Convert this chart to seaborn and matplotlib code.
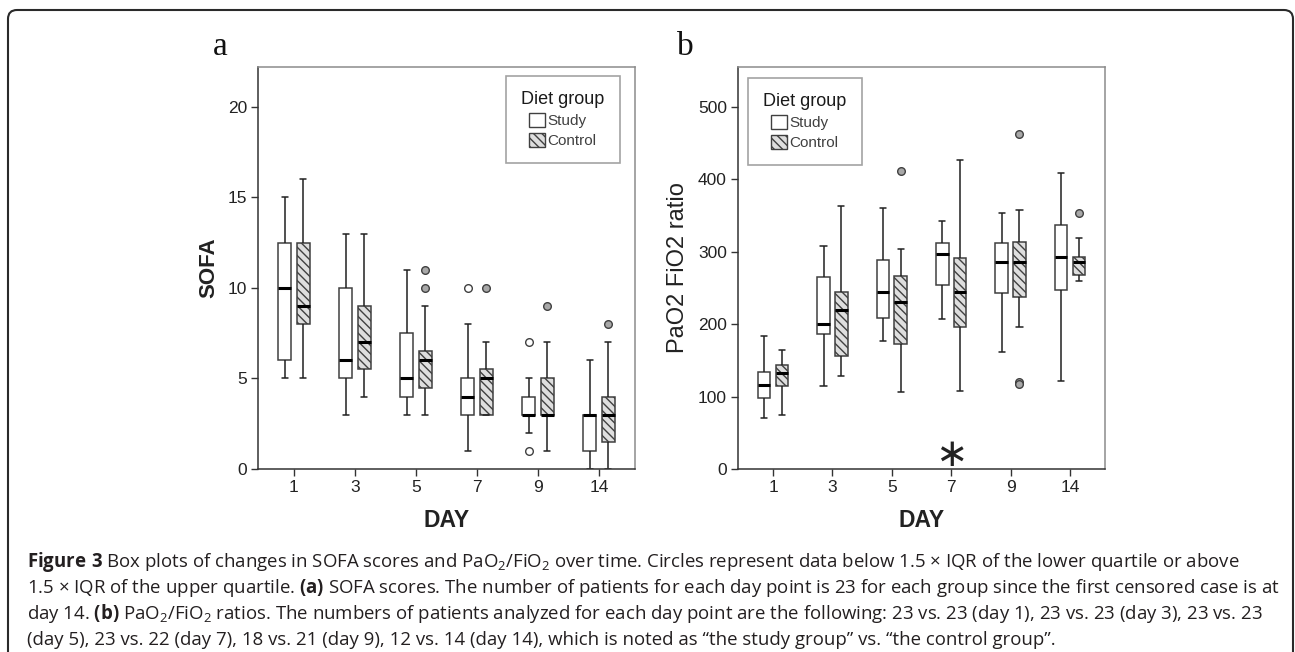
import matplotlib
matplotlib.use("Agg")
import matplotlib.pyplot as plt
import seaborn as sns
import pandas as pd
from matplotlib.patches import Patch, FancyBboxPatch
from matplotlib.transforms import IdentityTransform

sns.set_style("ticks")
plt.rcParams["font.family"] = ["Liberation Sans", "DejaVu Sans"]
plt.rcParams["mathtext.fontset"] = "custom"
plt.rcParams["mathtext.rm"] = "Open Sans"
plt.rcParams["mathtext.bf"] = "Open Sans:bold"
plt.rcParams["mathtext.default"] = "regular"

# categories
days = ["1", "3", "5", "7", "9", "14"]
groups = ["Study", "Control"]

# SOFA box summaries (whisker low, Q1, median, Q3, whisker high, outliers)
sofa_study_lo = [5, 3, 3, 1, 2, 0]
sofa_study_q1 = [6, 5, 4, 3, 3, 1]
sofa_study_med = [10, 6, 5, 4, 3, 3]
sofa_study_q3 = [12.5, 10, 7.5, 5, 4, 3]
sofa_study_hi = [15, 13, 11, 8, 5, 6]
sofa_study_out = [[], [], [], [10], [7, 1], []]

sofa_ctrl_lo = [5, 4, 3, 3, 1, 0]
sofa_ctrl_q1 = [8, 5.5, 4.5, 3, 3, 1.5]
sofa_ctrl_med = [9, 7, 6, 5, 3, 3]
sofa_ctrl_q3 = [12.5, 9, 6.5, 5.5, 5, 4]
sofa_ctrl_hi = [16, 13, 9, 7, 7, 7]
sofa_ctrl_out = [[], [], [11, 10], [10], [9], [8]]

# PaO2/FiO2 box summaries
pf_study_lo = [71, 115, 177, 207, 162, 122]
pf_study_q1 = [98, 187, 208, 254, 243, 247]
pf_study_med = [116, 200, 245, 297, 286, 293]
pf_study_q3 = [134, 265, 289, 312, 312, 337]
pf_study_hi = [184, 308, 360, 343, 353, 409]
pf_study_out = [[], [], [], [], [], []]

pf_ctrl_lo = [75, 128, 106, 107, 196, 260]
pf_ctrl_q1 = [114, 156, 172, 196, 237, 268]
pf_ctrl_med = [133, 219, 230, 244, 286, 286]
pf_ctrl_q3 = [144, 244, 266, 291, 313, 293]
pf_ctrl_hi = [164, 363, 304, 426, 357, 319]
pf_ctrl_out = [[], [], [411], [], [462, 120, 117], [353]]


def long_rows(group, lo, q1, med, q3, hi, outs):
    # values whose quartiles / whiskers reproduce the read box summaries
    rows = []
    for d, a, b, c, e, f, extra in zip(days, lo, q1, med, q3, hi, outs):
        vals = [a] + [b] * 5 + [c] * 5 + [e] * 5 + [f] + list(extra)
        rows += [{"day": d, "group": group, "value": v} for v in vals]
    return rows


df_sofa = pd.DataFrame(
    long_rows("Study", sofa_study_lo, sofa_study_q1, sofa_study_med, sofa_study_q3, sofa_study_hi, sofa_study_out)
    + long_rows("Control", sofa_ctrl_lo, sofa_ctrl_q1, sofa_ctrl_med, sofa_ctrl_q3, sofa_ctrl_hi, sofa_ctrl_out)
)
df_pf = pd.DataFrame(
    long_rows("Study", pf_study_lo, pf_study_q1, pf_study_med, pf_study_q3, pf_study_hi, pf_study_out)
    + long_rows("Control", pf_ctrl_lo, pf_ctrl_q1, pf_ctrl_med, pf_ctrl_q3, pf_ctrl_hi, pf_ctrl_out)
)

W, H = 1295, 652
fig = plt.figure(figsize=(W / 100, H / 100), dpi=100)
ax1 = fig.add_axes([258 / W, 1 - 469 / H, 377 / W, 402 / H])
ax2 = fig.add_axes([738 / W, 1 - 469 / H, 367 / W, 402 / H])

edge = "#404040"
hatch = "\\\\\\\\"
fills = {"Study": "white", "Control": "#dedede"}
flier_face = {"Study": "white", "Control": "#a8a8a8"}

for ax, df in [(ax1, df_sofa), (ax2, df_pf)]:
    sns.boxplot(data=df, x="day", y="value", hue="group", order=days, hue_order=groups,
                palette=fills, saturation=1, width=0.6, gap=0.3, linecolor=edge,
                linewidth=1.1, whis=1.5, legend=False, ax=ax,
                flierprops=dict(marker="o"),
                medianprops=dict(color="black", linewidth=2.2),
                whiskerprops=dict(color="#202020"), capprops=dict(color="#202020"))
    for cont, grp in zip(ax.containers, groups):
        for box in cont.boxes:
            box.set_edgecolor(edge)
            if grp == "Control":
                box.set_hatch(hatch)
        for fl in cont.fliers:
            fl.set_markerfacecolor(flier_face[grp])
            fl.set_markeredgecolor(edge)
            fl.set_markersize(5.5)
            fl.set_markeredgewidth(1.0)
    ax.set_xlim(-0.59, 5.59)
    for s in ["top", "right"]:
        ax.spines[s].set_visible(True)
        ax.spines[s].set_color("#8c8c8c")
    for s in ["left", "bottom"]:
        ax.spines[s].set_color("#333333")
    for s in ax.spines.values():
        s.set_linewidth(1.1)
    ax.tick_params(direction="out", length=5, width=1, color="#333333",
                   labelsize=12.5, labelcolor="#222222", pad=3)
    ax.set_xlabel("DAY", fontsize=16.5, fontweight="bold", color="#222222")
    ax.xaxis.set_label_coords(0.5, -0.1)

ax1.set_ylim(0, 22.2)
ax1.set_yticks([0, 5, 10, 15, 20])
ax1.set_ylabel("SOFA", fontsize=16, fontweight="bold", color="#222222")
ax1.yaxis.set_label_coords(-0.103, 0.5)

ax2.set_ylim(0, 555)
ax2.set_yticks([0, 100, 200, 300, 400, 500])
ax2.set_ylabel("PaO2 FiO2 ratio", fontsize=17, color="#222222")
ax2.yaxis.set_label_coords(-0.134, 0.5)

# significance mark at day 7
ax2.text(days.index("7"), 0.035, "\u2217", transform=ax2.get_xaxis_transform(),
         ha="center", va="center", fontsize=28,
         fontfamily="DejaVu Sans", color="#222222")

handles = [Patch(facecolor=fills["Study"], edgecolor=edge, linewidth=1),
           Patch(facecolor=fills["Control"], edgecolor=edge, linewidth=1, hatch=hatch)]
for ax, loc, anchor in [(ax1, "upper right", (0.96, 0.978)), (ax2, "upper left", (0.027, 0.9725))]:
    leg = ax.legend(handles, groups, title="Diet group", loc=loc, bbox_to_anchor=anchor,
                    frameon=True, fancybox=False, fontsize=11,
                    title_fontproperties={"size": 13}, handlelength=1.05, handleheight=1.05,
                    handletextpad=0.15, borderpad=1.0, labelspacing=0.3, borderaxespad=0)
    leg.get_frame().set_edgecolor("#8c8c8c")
    leg.get_frame().set_linewidth(1.2)
    for t in leg.get_texts():
        t.set_color("#404040")
    leg.get_title().set_color("#1a1a1a")

# panel letters
fig.text(220 / W, 1 - 55 / H, "a", ha="center", va="baseline", fontsize=24,
         fontfamily="Liberation Serif", color="#111111")
fig.text(685 / W, 1 - 55 / H, "b", ha="center", va="baseline", fontsize=24,
         fontfamily="Liberation Serif", color="#111111")

# caption
caption = [
    r"$\mathbf{Figure\ 3}$ Box plots of changes in SOFA scores and PaO$_2$/FiO$_2$ over time. Circles represent data below 1.5 × IQR of the lower quartile or above",
    r"1.5 × IQR of the upper quartile. $\mathbf{(a)}$ SOFA scores. The number of patients for each day point is 23 for each group since the first censored case is at",
    r"day 14. $\mathbf{(b)}$ PaO$_2$/FiO$_2$ ratios. The numbers of patients analyzed for each day point are the following: 23 vs. 23 (day 1), 23 vs. 23 (day 3), 23 vs. 23",
    "(day 5), 23 vs. 22 (day 7), 18 vs. 21 (day 9), 12 vs. 14 (day 14), which is noted as \u201cthe study group\u201d vs. \u201cthe control group\u201d.",
]
for i, line in enumerate(caption):
    fig.text(27 / W, 1 - (567 + 26 * i) / H, line, ha="left", va="baseline",
             fontsize=13.4, fontfamily="Open Sans", color="#231f20")

# outer rounded frame
frame = FancyBboxPatch((8, -30), 1285, 672, boxstyle="round,pad=0,rounding_size=9",
                       transform=IdentityTransform(), facecolor="none",
                       edgecolor="#2a2a2a", linewidth=1.5)
fig.add_artist(frame)

fig.savefig("out.png", dpi=100)
